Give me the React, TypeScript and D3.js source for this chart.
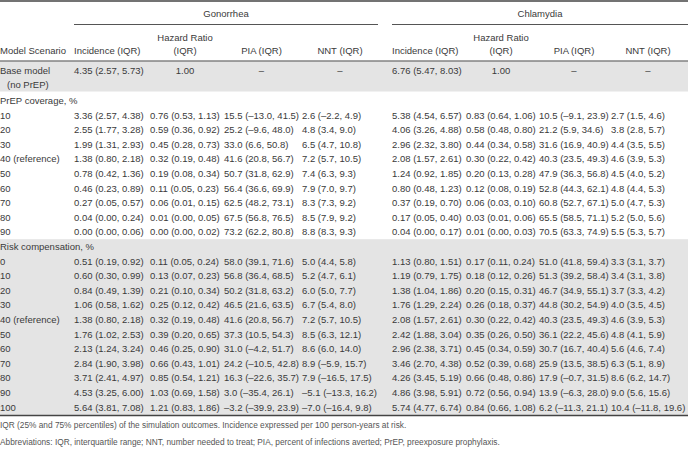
import React, { useEffect, useRef } from 'react';
import * as d3 from 'd3';

// column headers
const diseases = ["Gonorrhea", "Chlamydia"];
const measureHeads = [["Incidence (IQR)"], ["Hazard Ratio", "(IQR)"], ["PIA (IQR)"], ["NNT (IQR)"]];

// base model
const baseGonorrhea = ["4.35 (2.57, 5.73)", "1.00", "–", "–"];
const baseChlamydia = ["6.76 (5.47, 8.03)", "1.00", "–", "–"];

// PrEP coverage section
const prepLabels = ["10", "20", "30", "40 (reference)", "50", "60", "70", "80", "90"];
const prepGonorrhea = [
    ["3.36 (2.57, 4.38)", "0.76 (0.53, 1.13)", "15.5 (–13.0, 41.5)", "2.6 (–2.2, 4.9)"],
    ["2.55 (1.77, 3.28)", "0.59 (0.36, 0.92)", "25.2 (–9.6, 48.0)", "4.8 (3.4, 9.0)"],
    ["1.99 (1.31, 2.93)", "0.45 (0.28, 0.73)", "33.0 (6.6, 50.8)", "6.5 (4.7, 10.8)"],
    ["1.38 (0.80, 2.18)", "0.32 (0.19, 0.48)", "41.6 (20.8, 56.7)", "7.2 (5.7, 10.5)"],
    ["0.78 (0.42, 1.36)", "0.19 (0.08, 0.34)", "50.7 (31.8, 62.9)", "7.4 (6.3, 9.3)"],
    ["0.46 (0.23, 0.89)", "0.11 (0.05, 0.23)", "56.4 (36.6, 69.9)", "7.9 (7.0, 9.7)"],
    ["0.27 (0.05, 0.57)", "0.06 (0.01, 0.15)", "62.5 (48.2, 73.1)", "8.3 (7.3, 9.2)"],
    ["0.04 (0.00, 0.24)", "0.01 (0.00, 0.05)", "67.5 (56.8, 76.5)", "8.5 (7.9, 9.2)"],
    ["0.00 (0.00, 0.06)", "0.00 (0.00, 0.02)", "73.2 (62.2, 80.8)", "8.8 (8.3, 9.3)"],
];
const prepChlamydia = [
    ["5.38 (4.54, 6.57)", "0.83 (0.64, 1.06)", "10.5 (–9.1, 23.9)", "2.7 (1.5, 4.6)"],
    ["4.06 (3.26, 4.88)", "0.58 (0.48, 0.80)", "21.2 (5.9, 34.6)", "3.8 (2.8, 5.7)"],
    ["2.96 (2.32, 3.80)", "0.44 (0.34, 0.58)", "31.6 (16.9, 40.9)", "4.4 (3.5, 5.5)"],
    ["2.08 (1.57, 2.61)", "0.30 (0.22, 0.42)", "40.3 (23.5, 49.3)", "4.6 (3.9, 5.3)"],
    ["1.24 (0.92, 1.85)", "0.20 (0.13, 0.28)", "47.9 (36.3, 56.8)", "4.5 (4.0, 5.2)"],
    ["0.80 (0.48, 1.23)", "0.12 (0.08, 0.19)", "52.8 (44.3, 62.1)", "4.8 (4.4, 5.3)"],
    ["0.37 (0.19, 0.70)", "0.06 (0.03, 0.10)", "60.8 (52.7, 67.1)", "5.0 (4.7, 5.3)"],
    ["0.17 (0.05, 0.40)", "0.03 (0.01, 0.06)", "65.5 (58.5, 71.1)", "5.2 (5.0, 5.6)"],
    ["0.04 (0.00, 0.17)", "0.01 (0.00, 0.03)", "70.5 (63.3, 74.9)", "5.5 (5.3, 5.7)"],
];

// Risk compensation section
const riskLabels = ["0", "10", "20", "30", "40 (reference)", "50", "60", "70", "80", "90", "100"];
const riskGonorrhea = [
    ["0.51 (0.19, 0.92)", "0.11 (0.05, 0.24)", "58.0 (39.1, 71.6)", "5.0 (4.4, 5.8)"],
    ["0.60 (0.30, 0.99)", "0.13 (0.07, 0.23)", "56.8 (36.4, 68.5)", "5.2 (4.7, 6.1)"],
    ["0.84 (0.49, 1.39)", "0.21 (0.10, 0.34)", "50.2 (31.8, 63.2)", "6.0 (5.0, 7.7)"],
    ["1.06 (0.58, 1.62)", "0.25 (0.12, 0.42)", "46.5 (21.6, 63.5)", "6.7 (5.4, 8.0)"],
    ["1.38 (0.80, 2.18)", "0.32 (0.19, 0.48)", "41.6 (20.8, 56.7)", "7.2 (5.7, 10.5)"],
    ["1.76 (1.02, 2.53)", "0.39 (0.20, 0.65)", "37.3 (10.5, 54.3)", "8.5 (6.3, 12.1)"],
    ["2.13 (1.24, 3.24)", "0.46 (0.25, 0.90)", "31.0 (–4.2, 51.7)", "8.6 (6.0, 14.0)"],
    ["2.84 (1.90, 3.98)", "0.66 (0.43, 1.01)", "24.2 (–10.5, 42.8)", "8.9 (–5.9, 15.7)"],
    ["3.71 (2.41, 4.97)", "0.85 (0.54, 1.21)", "16.3 (–22.6, 35.7)", "7.9 (–16.5, 17.5)"],
    ["4.53 (3.25, 6.00)", "1.03 (0.69, 1.58)", "3.0 (–35.4, 26.1)", "–5.1 (–13.3, 16.2)"],
    ["5.64 (3.81, 7.08)", "1.21 (0.83, 1.86)", "–3.2 (–39.9, 23.9)", "–7.0 (–16.4, 9.8)"],
];
const riskChlamydia = [
    ["1.13 (0.80, 1.51)", "0.17 (0.11, 0.24)", "51.0 (41.8, 59.4)", "3.3 (3.1, 3.7)"],
    ["1.19 (0.79, 1.75)", "0.18 (0.12, 0.26)", "51.3 (39.2, 58.4)", "3.4 (3.1, 3.8)"],
    ["1.38 (1.04, 1.86)", "0.20 (0.15, 0.31)", "46.7 (34.9, 55.1)", "3.7 (3.3, 4.2)"],
    ["1.76 (1.29, 2.24)", "0.26 (0.18, 0.37)", "44.8 (30.2, 54.9)", "4.0 (3.5, 4.5)"],
    ["2.08 (1.57, 2.61)", "0.30 (0.22, 0.42)", "40.3 (23.5, 49.3)", "4.6 (3.9, 5.3)"],
    ["2.42 (1.88, 3.04)", "0.35 (0.26, 0.50)", "36.1 (22.2, 45.6)", "4.8 (4.1, 5.9)"],
    ["2.96 (2.38, 3.71)", "0.45 (0.34, 0.59)", "30.7 (16.7, 40.4)", "5.6 (4.6, 7.4)"],
    ["3.46 (2.70, 4.38)", "0.52 (0.39, 0.68)", "25.9 (13.5, 38.5)", "6.3 (5.1, 8.9)"],
    ["4.26 (3.45, 5.19)", "0.66 (0.48, 0.86)", "17.9 (–0.7, 31.5)", "8.6 (6.2, 14.7)"],
    ["4.86 (3.98, 5.91)", "0.72 (0.56, 0.94)", "13.9 (–6.3, 28.0)", "9.0 (5.6, 15.6)"],
    ["5.74 (4.77, 6.74)", "0.84 (0.66, 1.08)", "6.2 (–11.3, 21.1)", "10.4 (–11.8, 19.6)"],
];

const footnotes = [
    "IQR (25% and 75% percentiles) of the simulation outcomes. Incidence expressed per 100 person-years at risk.",
    "Abbreviations: IQR, interquartile range; NNT, number needed to treat; PIA, percent of infections averted; PrEP, preexposure prophylaxis.",
];

const App = () => {
    const ref = useRef(null);

    useEffect(() => {
        const svg = d3.select(ref.current);
        svg.selectAll("*").remove();

        const width = 688;
        const height = 459;
        const ink = "#3a3a3a";
        const band = "#e4e4e4";
        const fontSize = 9.5;

        // left edge of each of the 8 data columns, and their widths
        const colStart = [74, 150, 224, 302, 392, 466, 539, 611];
        const colWidth = [70, 70, 75, 76, 70, 70, 70, 74];
        const colCenter = colStart.map((x, i) => x + colWidth[i] / 2);

        // vertical rows after the base model row
        const rowIds = ["prep", ...prepLabels.map((d, i) => "p" + i), "risk", ...riskLabels.map((d, i) => "r" + i)];
        const rowH = 14.6;
        const firstRowY = 100.5;
        const y = d3.scalePoint()
            .domain(rowIds)
            .range([firstRowY, firstRowY + rowH * (rowIds.length - 1)]);

        svg.attr("viewBox", [0, 0, width, height])
            .attr("style", `position:absolute;left:0;top:0;font-family:'Liberation Sans',Arial,sans-serif;font-size:${fontSize}px;`);

        const tableBottom = y("r" + (riskLabels.length - 1)) + rowH / 2 + 1;

        // Background bands
        svg.append("rect")
            .attr("x", 0).attr("y", 61.5)
            .attr("width", width).attr("height", 30)
            .attr("fill", band);
        svg.append("rect")
            .attr("x", 0).attr("y", y("risk") - rowH / 2)
            .attr("width", width).attr("height", tableBottom - (y("risk") - rowH / 2))
            .attr("fill", band);

        // Rules
        svg.append("line").attr("x1", 0).attr("x2", width).attr("y1", 1).attr("y2", 1)
            .attr("stroke", "#444").attr("stroke-width", 1.5);
        svg.append("line").attr("x1", 0).attr("x2", width).attr("y1", 61).attr("y2", 61)
            .attr("stroke", "#444").attr("stroke-width", 1);
        svg.append("line").attr("x1", 0).attr("x2", width).attr("y1", tableBottom).attr("y2", tableBottom)
            .attr("stroke", "#444").attr("stroke-width", 1.5);

        // Disease headers with underline
        const spans = [[colStart[0], colStart[3] + colWidth[3]], [colStart[4], width]];
        diseases.forEach((name, i) => {
            const [x0, x1] = spans[i];
            svg.append("text")
                .attr("x", (x0 + x1) / 2).attr("y", 17)
                .attr("text-anchor", "middle")
                .attr("fill", ink)
                .text(name);
            svg.append("line")
                .attr("x1", x0).attr("x2", x1)
                .attr("y1", 24.5).attr("y2", 24.5)
                .attr("stroke", "#555").attr("stroke-width", 1);
        });

        // Column headers
        svg.append("text").attr("x", 0).attr("y", 54).attr("fill", ink).text("Model Scenario");
        colStart.forEach((x, i) => {
            const head = measureHeads[i % 4];
            const left = i % 4 === 0;
            head.forEach((line, j) => {
                svg.append("text")
                    .attr("x", left ? x : colCenter[i])
                    .attr("y", 54 - (head.length - 1 - j) * 13.5)
                    .attr("text-anchor", left ? "start" : "middle")
                    .attr("fill", ink)
                    .text(line);
            });
        });

        // Base model row
        svg.append("text").attr("x", 0).attr("y", 74).attr("fill", ink).text("Base model");
        svg.append("text").attr("x", 7).attr("y", 87.5).attr("fill", ink).text("(no PrEP)");
        [...baseGonorrhea, ...baseChlamydia].forEach((v, i) => {
            const left = i % 4 === 0;
            svg.append("text")
                .attr("x", left ? colStart[i] : colCenter[i])
                .attr("y", 74)
                .attr("text-anchor", left ? "start" : "middle")
                .attr("fill", ink)
                .text(v);
        });

        // Section headers
        svg.append("text").attr("x", 0).attr("y", y("prep") + 3.4).attr("fill", ink).text("PrEP coverage, %");
        svg.append("text").attr("x", 0).attr("y", y("risk") + 3.4).attr("fill", ink).text("Risk compensation, %");

        // Body rows
        const drawSection = (prefix, labels, gon, chl) => {
            labels.forEach((label, r) => {
                const yy = y(prefix + r) + 3.4;
                svg.append("text").attr("x", 0).attr("y", yy).attr("fill", ink).text(label);
                [...gon[r], ...chl[r]].forEach((v, c) => {
                    svg.append("text")
                        .attr("x", colStart[c])
                        .attr("y", yy)
                        .attr("fill", ink)
                        .text(v);
                });
            });
        };
        drawSection("p", prepLabels, prepGonorrhea, prepChlamydia);
        drawSection("r", riskLabels, riskGonorrhea, riskChlamydia);

        // Footnotes
        svg.append("g")
            .selectAll("text")
            .data(footnotes)
            .join("text")
            .attr("x", 0)
            .attr("y", (d, i) => tableBottom + 13 + i * 16.5)
            .attr("font-size", 8.3)
            .attr("fill", "#555")
            .text(d => d);
    }, []);

    return (
        <svg ref={ref} width={688} height={459} />
    );
};

export default App;
